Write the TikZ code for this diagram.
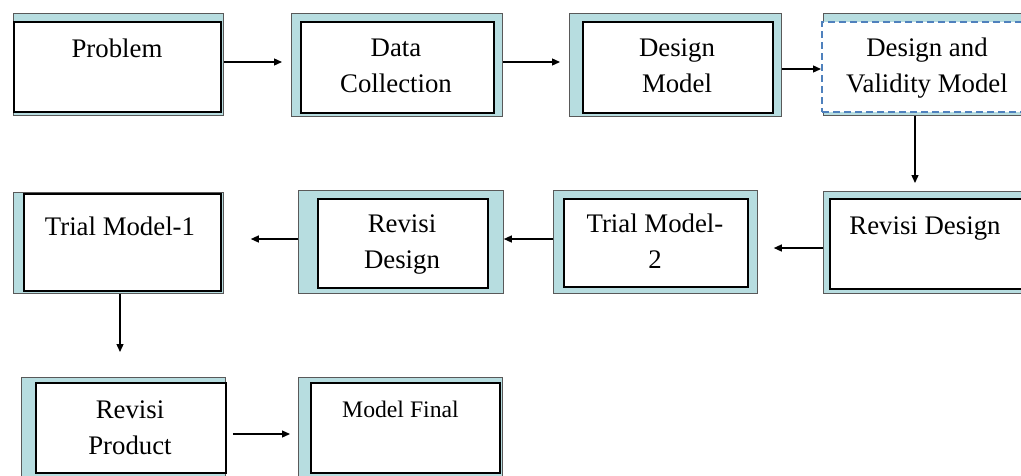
\documentclass[tikz,border=0pt]{standalone}
\usepackage{fontspec}
\setmainfont{Liberation Serif}
\usetikzlibrary{arrows.meta}
\definecolor{tealfill}{HTML}{B7DDE0}
\definecolor{dashblue}{HTML}{4F81BD}
\begin{document}
\begin{tikzpicture}[x=1pt,y=-1pt,
  outerbox/.style={draw=black!65, line width=0.8pt, fill=tealfill, inner sep=0pt, anchor=north west},
  innerbox/.style={draw=black, line width=2pt, fill=white, inner sep=0pt, anchor=north west},
  dashbox/.style={draw=dashblue, line width=2pt, dash pattern=on 7pt off 4pt, fill=white, inner sep=0pt, anchor=north west},
  lbl/.style={inner sep=0pt, align=center, anchor=base, font=\fontsize{26.8}{36}\selectfont},
  arr/.style={-{Triangle[length=8pt,width=7pt]}, line width=1.3pt}]
\clip (0,0) rectangle (1021,475);
\fill[white] (0,0) rectangle (1021,475);
% row 1
\node[outerbox, minimum width=210pt, minimum height=102pt] (o1) at (13,13) {};
\node[innerbox, minimum width=207pt, minimum height=90pt] (b1) at (13,21) {};
\node[lbl] (t1) at (117,57) {Problem};
\node[outerbox, minimum width=211pt, minimum height=103pt] (o2) at (291,13) {};
\node[innerbox, minimum width=193pt, minimum height=91pt] (b2) at (300,21) {};
\node[lbl] (t2) at (396,92) {Data\\Collection};
\node[outerbox, minimum width=212pt, minimum height=103pt] (o3) at (569,13) {};
\node[innerbox, minimum width=190pt, minimum height=91pt] (b3) at (582,21) {};
\node[lbl] (t3) at (677,92) {Design\\Model};
\node[outerbox, minimum width=220pt, minimum height=102pt] (o4) at (823,13) {};
\node[dashbox, minimum width=220pt, minimum height=90pt] (b4) at (821,21) {};
\node[lbl] (t4) at (927,92) {Design and\\Validity Model};
% row 2
\node[outerbox, minimum width=220pt, minimum height=102pt] (o5) at (823,191) {};
\node[innerbox, minimum width=220pt, minimum height=90pt] (b5) at (829,198) {};
\node[lbl] (t5) at (925,234) {Revisi Design};
\node[outerbox, minimum width=204pt, minimum height=103pt] (o6) at (553,190) {};
\node[innerbox, minimum width=184pt, minimum height=88pt] (b6) at (563,198) {};
\node[lbl] (t6) at (655,268) {Trial Model-\\2};
\node[outerbox, minimum width=205pt, minimum height=103pt] (o7) at (298,190) {};
\node[innerbox, minimum width=170pt, minimum height=89pt] (b7) at (317,198) {};
\node[lbl] (t7) at (402,268) {Revisi\\Design};
\node[outerbox, minimum width=210pt, minimum height=101pt] (o8) at (13,192) {};
\node[innerbox, minimum width=197pt, minimum height=97pt] (b8) at (23,193) {};
\node[lbl] (t8) at (120,235) {Trial Model-1};
% row 3
\node[outerbox, minimum width=204pt, minimum height=110pt] (o9) at (21,377) {};
\node[innerbox, minimum width=190pt, minimum height=90pt] (b9) at (35,382) {};
\node[lbl] (t9) at (130,454) {Revisi\\Product};
\node[outerbox, minimum width=204pt, minimum height=110pt] (o10) at (298,377) {};
\node[innerbox, minimum width=189pt, minimum height=90pt] (b10) at (310,382) {};
\node[lbl, anchor=base west, font=\fontsize{23.7}{30}\selectfont] (t10) at (342,417) {Model Final};
% connectors
\draw[arr, shorten >=9pt] (o1.east |- 0,62) -- (o2.west |- 0,62);
\draw[arr, shorten >=9pt] (o2.east |- 0,62) -- (o3.west |- 0,62);
\draw[arr, shorten >=2pt] (o3.east |- 0,69) -- (o4.west |- 0,69);
\draw[arr, shorten >=8pt] (o4.south -| 915,0) -- (o5.north -| 915,0);
\draw[arr, shorten >=16pt] (o5.west |- 0,248) -- (o6.east |- 0,248);
\draw[arr] (o6.west |- 0,239) -- (o7.east |- 0,239);
\draw[arr, shorten >=27pt] (o7.west |- 0,239) -- (o8.east |- 0,239);
\draw[arr, shorten >=25pt] (o8.south -| 120,0) -- (o9.north -| 120,0);
\draw[arr, shorten <=7pt, shorten >=8pt] (o9.east |- 0,434) -- (o10.west |- 0,434);
\end{tikzpicture}
\end{document}
